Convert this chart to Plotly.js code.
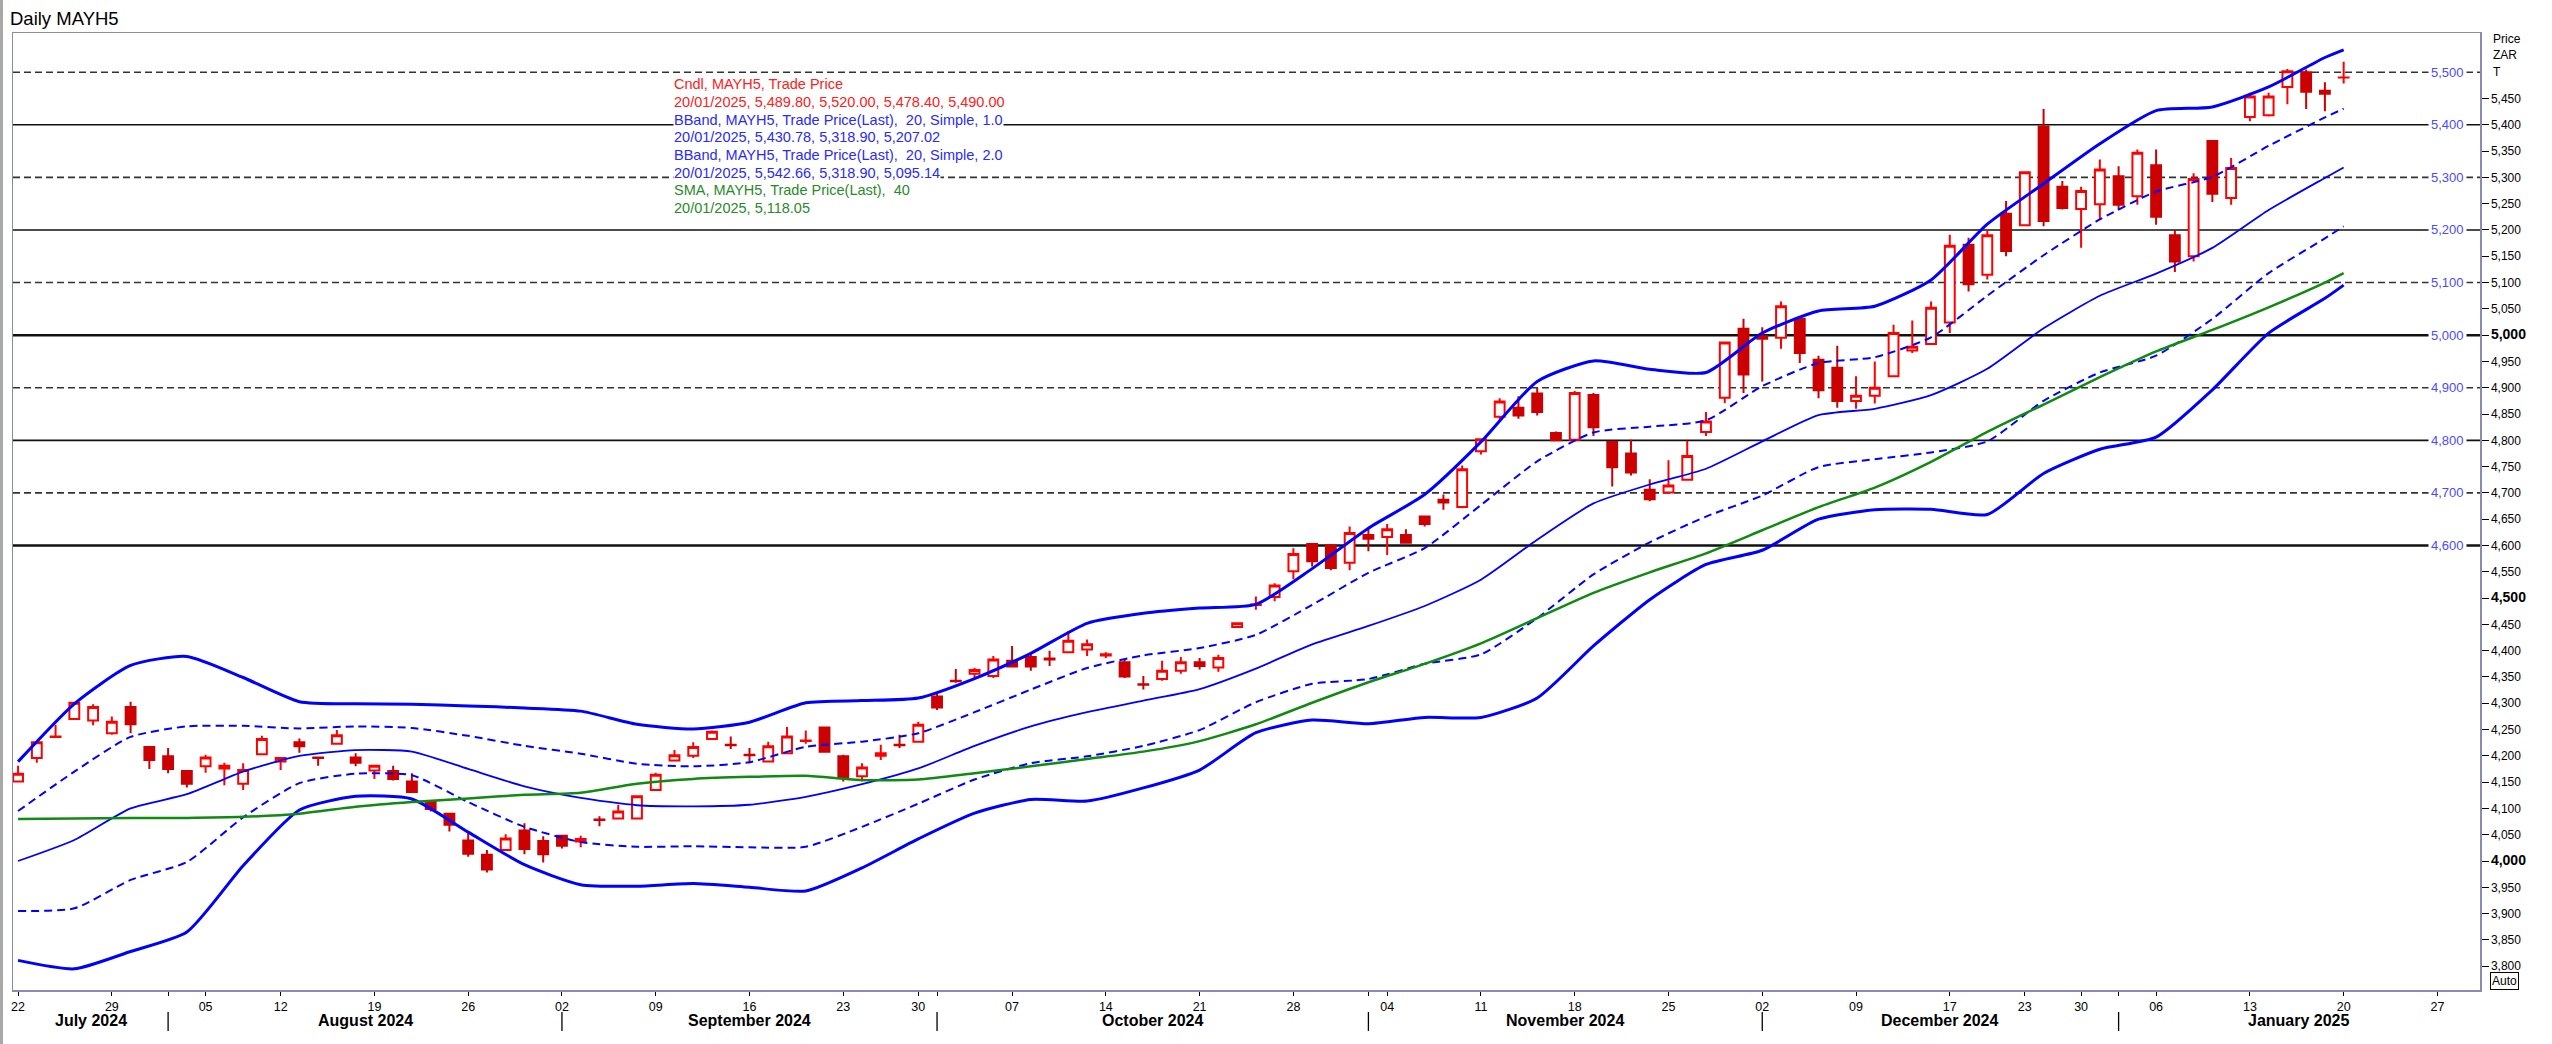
<!DOCTYPE html>
<html>
<head>
<meta charset="utf-8">
<script src="https://cdn.plot.ly/plotly-3.0.1.min.js"></script>
<style>
html,body{margin:0;padding:0;background:#ffffff;}
#chart{width:2552px;height:1044px;}
</style>
</head>
<body>
<div id="chart"></div>
<script>
// ---------------- DATA ----------------
const tradingDates = [
'2024-07-22','2024-07-23','2024-07-24','2024-07-25','2024-07-26','2024-07-29','2024-07-30','2024-07-31',
'2024-08-01','2024-08-02','2024-08-05','2024-08-06','2024-08-07','2024-08-08','2024-08-12','2024-08-13','2024-08-14','2024-08-15','2024-08-16','2024-08-19','2024-08-20','2024-08-21','2024-08-22','2024-08-23','2024-08-26','2024-08-27','2024-08-28','2024-08-29','2024-08-30',
'2024-09-02','2024-09-03','2024-09-04','2024-09-05','2024-09-06','2024-09-09','2024-09-10','2024-09-11','2024-09-12','2024-09-13','2024-09-16','2024-09-17','2024-09-18','2024-09-19','2024-09-20','2024-09-23','2024-09-25','2024-09-26','2024-09-27','2024-09-30',
'2024-10-01','2024-10-02','2024-10-03','2024-10-04','2024-10-07','2024-10-08','2024-10-09','2024-10-10','2024-10-11','2024-10-14','2024-10-15','2024-10-16','2024-10-17','2024-10-18','2024-10-21','2024-10-22','2024-10-23','2024-10-24','2024-10-25','2024-10-28','2024-10-29','2024-10-30','2024-10-31',
'2024-11-01','2024-11-04','2024-11-05','2024-11-06','2024-11-07','2024-11-08','2024-11-11','2024-11-12','2024-11-13','2024-11-14','2024-11-15','2024-11-18','2024-11-19','2024-11-20','2024-11-21','2024-11-22','2024-11-25','2024-11-26','2024-11-27','2024-11-28','2024-11-29',
'2024-12-02','2024-12-03','2024-12-04','2024-12-05','2024-12-06','2024-12-09','2024-12-10','2024-12-11','2024-12-12','2024-12-13','2024-12-17','2024-12-18','2024-12-19','2024-12-20','2024-12-23','2024-12-24','2024-12-27','2024-12-30','2024-12-31',
'2025-01-02','2025-01-03','2025-01-06','2025-01-07','2025-01-08','2025-01-09','2025-01-10','2025-01-13','2025-01-14','2025-01-15','2025-01-16','2025-01-17','2025-01-20'
];
const futureDates = ['2025-01-21','2025-01-22','2025-01-23','2025-01-24','2025-01-27'];

const openPx = [
4151,4196,4236,4270,4267,4243,4293,4217,4199,4171,4180,4176,4147,4203,4189,4226,4197,4223,4197,4172,
4171,4151,4113,4090,4039,4012,4021,4058,4038,4048,4037,4079,4081,4081,4135,4191,4200,4232,4221,4202,
4189,4205,4228,4254,4199,4161,4200,4221,4227,4313,4343,4356,4352,4381,4388,4385,4397,4402,4391,4378,
4336,4346,4362,4378,4368,4445,4487,4502,4551,4603,4600,4567,4620,4616,4620,4655,4687,4673,4779,4845,
4862,4889,4814,4801,4886,4797,4775,4706,4701,4725,4816,4881,5012,4998,4995,5031,4953,4938,4875,4885,
4922,4971,4983,5024,5172,5115,5231,5209,5397,5282,5240,5249,5302,5264,5323,5190,5150,5369,5261,5415,
5418,5472,5500,5465,5489.8];
const highPx = [
4181,4227,4259,4302,4298,4275,4303,4218,4215,4172,4202,4187,4186,4238,4196,4233,4198,4249,4205,4183,
4181,4167,4114,4091,4053,4021,4051,4072,4047,4050,4048,4085,4107,4124,4168,4211,4226,4248,4237,4215,
4227,4255,4248,4255,4202,4186,4221,4240,4265,4320,4365,4367,4390,4409,4397,4400,4437,4421,4397,4384,
4352,4381,4388,4386,4392,4454,4503,4528,4595,4604,4603,4636,4633,4641,4631,4656,4697,4752,4803,4880,
4884,4901,4817,4894,4890,4798,4801,4726,4762,4799,4854,4987,5031,5015,5064,5032,4961,4980,4922,4950,
5020,5028,5064,5191,5185,5200,5255,5311,5430,5293,5282,5334,5321,5353,5353,5200,5308,5370,5337,5461,
5461,5506,5505,5481,5520];
const lowPx = [
4150,4187,4235,4269,4258,4240,4243,4175,4167,4140,4168,4144,4135,4202,4173,4206,4181,4222,4180,4156,
4153,4130,4094,4056,4008,3978,4020,4013,3997,4024,4026,4066,4080,4080,4134,4190,4196,4231,4213,4186,
4188,4204,4223,4206,4151,4151,4192,4215,4226,4287,4339,4348,4348,4369,4362,4371,4396,4390,4386,4348,
4326,4343,4356,4364,4360,4443,4478,4494,4536,4560,4553,4553,4589,4582,4604,4636,4668,4671,4773,4836,
4841,4847,4800,4800,4808,4712,4733,4684,4700,4724,4808,4871,4890,4912,4974,4947,4880,4862,4860,4870,
4921,4966,4982,5004,5083,5106,5150,5208,5207,5239,5166,5220,5239,5248,5210,5120,5140,5253,5248,5407,
5416,5439,5430,5426,5478.4];
const closePx = [
4166,4226,4237,4301,4293,4265,4260,4192,4175,4147,4197,4181,4173,4232,4196,4218,4196,4239,4187,4181,
4156,4131,4099,4069,4014,3984,4043,4023,4013,4029,4042,4078,4094,4123,4164,4201,4217,4246,4220,4201,
4218,4237,4229,4208,4159,4178,4205,4220,4259,4292,4342,4363,4383,4370,4370,4383,4419,4412,4393,4351,
4335,4362,4378,4371,4386,4452,4488,4524,4584,4570,4557,4624,4613,4631,4605,4641,4682,4745,4802,4874,
4847,4854,4800,4890,4825,4749,4739,4688,4714,4770,4836,4986,4925,4993,5055,4966,4895,4875,4885,4900,
5004,4978,5052,5170,5097,5190,5160,5310,5217,5242,5274,5315,5248,5347,5225,5140,5297,5269,5318,5454,
5454,5502,5463,5459,5490];

// indicator readings (trading-day number -> value)
const bandDays = [0,3,6,9,12,15,18,21,24,27,30,33,36,39,42,45,48,51,54,57,60,63,66,69,72,75,78,81,84,87,90,93,96,99,102,105,108,111,114,117,120,123,124];
const bbUpper2 = [4189,4299,4372,4389,4349,4303,4299,4298,4295,4291,4285,4260,4251,4264,4301,4305,4310,4347,4395,4452,4471,4481,4488,4556,4633,4697,4797,4912,4951,4935,4929,5004,5046,5055,5105,5211,5288,5364,5427,5434,5472,5528,5542.66];
const bbUpper1 = [4095,4170,4236,4256,4257,4252,4256,4253,4238,4219,4204,4185,4180,4188,4217,4227,4243,4283,4326,4367,4391,4405,4430,4487,4548,4595,4677,4760,4815,4826,4838,4903,4947,4958,4996,5075,5152,5220,5273,5301,5360,5414,5430.78];
const bbMid    = [4000,4040,4100,4127,4170,4200,4211,4208,4175,4142,4120,4106,4104,4107,4122,4146,4176,4219,4256,4283,4305,4327,4366,4412,4447,4485,4535,4611,4680,4716,4746,4798,4848,4860,4886,4936,5013,5075,5117,5166,5238,5299,5318.90];
const bbLower1 = [3905,3910,3964,3998,4083,4148,4166,4163,4112,4065,4036,4027,4028,4026,4027,4065,4109,4155,4186,4199,4219,4249,4302,4337,4346,4375,4393,4462,4545,4606,4655,4695,4749,4764,4777,4798,4875,4929,4961,5031,5118,5184,5207.02];
const bbLower2 = [3811,3795,3828,3865,3991,4097,4123,4118,4055,3993,3955,3952,3957,3950,3943,3987,4042,4091,4117,4114,4139,4173,4244,4268,4261,4273,4273,4310,4409,4497,4564,4591,4650,4668,4669,4659,4737,4783,4806,4896,5004,5070,5095.14];
const sma40    = [4080,4081,4082,4082,4084,4090,4103,4112,4119,4126,4130,4147,4156,4160,4162,4154,4155,4167,4180,4194,4208,4228,4260,4301,4340,4375,4414,4462,4510,4549,4585,4629,4673,4710,4759,4816,4868,4920,4969,5010,5053,5100,5118.05];

const levelLines = [4600,4700,4800,4900,5000,5100,5200,5300,5400,5500];
const legendTexts = [
  'Cndl, MAYH5, Trade Price',
  '20/01/2025, 5,489.80, 5,520.00, 5,478.40, 5,490.00',
  'BBand, MAYH5, Trade Price(Last),  20, Simple, 1.0',
  '20/01/2025, 5,430.78, 5,318.90, 5,207.02',
  'BBand, MAYH5, Trade Price(Last),  20, Simple, 2.0',
  '20/01/2025, 5,542.66, 5,318.90, 5,095.14',
  'SMA, MAYH5, Trade Price(Last),  40',
  '20/01/2025, 5,118.05'
];
const legendKinds = ['cndl','cndl','bb','bb','bb','bb','sma','sma'];
const lastBlue = [5430.78, 5318.90, 5207.02, 5095.14];
const lastGreen = [5118.05];
const monthNames = ['January','February','March','April','May','June','July','August','September','October','November','December'];

// ---------------- LAYOUT CONSTANTS ----------------
const W = 2552, H = 1044;
const M = {l:13, r:72, t:33, b:54};
const plotH = H - M.t - M.b, plotW = W - M.l - M.r;
const xRange = [-0.27, 131.27];
const yRange = [3754.7, 5574.6];
const FONT = 'Liberation Sans, Arial, sans-serif';
const NARROW = 'Liberation Sans Narrow, Arial Narrow, Liberation Sans, Arial, sans-serif';
const COL = {up:'#ff0000', down:'#cc0000', blue:'#0000ff', green:'#108a10',
             txtRed:'#ff2020', txtBlue:'#2a2aff', txtGreen:'#2a8a2a', lvlLbl:'#4a4aff'};
const ypx = px => (H - M.b - px) / plotH;   // pixel row -> paper y
const xpx = px => (px - M.l) / plotW;       // pixel col -> paper x

// ---------------- DERIVED AXIS INFO ----------------
const allDates = tradingDates.concat(futureDates);
const dayIdx = tradingDates.map((d, i) => i);
function mondayOf(s){ const d = new Date(s + 'T00:00:00Z'); const wd = (d.getUTCDay() + 6) % 7; d.setUTCDate(d.getUTCDate() - wd); return d.toISOString().slice(0,10); }
const tickVals = [], tickText = [];
const monthStartIdx = [];
allDates.forEach((d, i) => {
  if (i === 0 || mondayOf(d) !== mondayOf(allDates[i-1])) { tickVals.push(i); tickText.push(d.slice(8,10)); }
  if (i > 0 && d.slice(0,7) !== allDates[i-1].slice(0,7)) {
    monthStartIdx.push(i);
    if (tickVals.indexOf(i) < 0) { tickVals.push(i); tickText.push(''); }
  }
});

// ---------------- TRACES ----------------
const traces = [];
traces.push({
  type:'candlestick', x:dayIdx, open:openPx, high:highPx, low:lowPx, close:closePx,
  increasing:{line:{color:COL.up, width:2}, fillcolor:'#ffffff'},
  decreasing:{line:{color:COL.down, width:2}, fillcolor:COL.down},
  whiskerwidth:0, hoverinfo:'skip', showlegend:false
});
const lineTrace = (y, color, width, dash) => ({type:'scatter', mode:'lines', x:bandDays, y:y,
  line:{color:color, width:width, dash:dash || 'solid', shape:'spline', smoothing:0.6}, hoverinfo:'skip', showlegend:false});
traces.push(lineTrace(bbUpper2, COL.blue, 3));
traces.push(lineTrace(bbUpper1, COL.blue, 2, '8px,5px'));
traces.push(lineTrace(bbMid, COL.blue, 1.8));
traces.push(lineTrace(bbLower1, COL.blue, 2, '8px,5px'));
traces.push(lineTrace(bbLower2, COL.blue, 3));
traces.push(lineTrace(sma40, COL.green, 2.5));
// last value markers on the price scale
traces.push({type:'scatter', mode:'markers', x:lastBlue.map(() => xRange[1] + 0.38), y:lastBlue,
  marker:{symbol:'diamond', size:9, color:COL.blue}, cliponaxis:false, hoverinfo:'skip', showlegend:false});
traces.push({type:'scatter', mode:'markers', x:lastGreen.map(() => xRange[1] + 0.38), y:lastGreen,
  marker:{symbol:'diamond', size:9, color:COL.green}, cliponaxis:false, hoverinfo:'skip', showlegend:false});

// ---------------- SHAPES ----------------
const shapes = [];
levelLines.forEach(v => {
  const solid = (v % 200 === 0);
  const heavy = (v === 5000 || v === 4600);
  shapes.push({type:'line', xref:'paper', x0:0, x1:1, yref:'y', y0:v, y1:v, layer:'below',
    line:{color: solid ? '#111111' : '#333333', width: heavy ? 2.5 : 1.6, dash: solid ? 'solid' : '7px,4px'}});
});
monthStartIdx.forEach(i => {
  shapes.push({type:'line', xref:'x', x0:i, x1:i, yref:'paper', y0:ypx(1012), y1:ypx(1031), line:{color:'#000', width:1.3}});
});
// window edge strip at far left
shapes.push({type:'rect', xref:'paper', yref:'paper', x0:xpx(0), x1:xpx(3), y0:ypx(H), y1:ypx(0), line:{width:0}, fillcolor:'#a8a8a8'});

// ---------------- ANNOTATIONS ----------------
const annotations = [];
annotations.push({xref:'paper', yref:'paper', x:xpx(8), y:ypx(18), xanchor:'left', yanchor:'middle',
  text:'Daily MAYH5', showarrow:false, font:{family:FONT, size:18.5, color:'#000'}});
const legendY0 = 84.3, legendStep = 17.65;
legendTexts.forEach((t, k) => {
  const c = legendKinds[k] === 'cndl' ? COL.txtRed : (legendKinds[k] === 'bb' ? COL.txtBlue : COL.txtGreen);
  annotations.push({xref:'paper', yref:'paper', x:xpx(673), y:ypx(legendY0 + k * legendStep), xanchor:'left', yanchor:'middle',
    text:t, showarrow:false, bgcolor:'#ffffff', borderpad:0, font:{family:FONT, size:14.5, color:c}});
});
levelLines.forEach(v => {
  annotations.push({xref:'paper', yref:'y', x:xpx(2447), y:v, xanchor:'center', yanchor:'middle',
    text:v.toLocaleString('en-US'), showarrow:false, bgcolor:'#ffffff', borderpad:2,
    font:{family:FONT, size:13, color:COL.lvlLbl}});
});
['Price','ZAR','T'].forEach((t, k) => {
  annotations.push({xref:'paper', yref:'paper', x:xpx(2491), y:ypx(39 + k * 16.5), xanchor:'left', yanchor:'middle',
    text:t, showarrow:false, font:{family:FONT, size:12, color:'#000'}});
});
annotations.push({xref:'paper', yref:'paper', x:xpx(2490), y:ypx(981), xanchor:'left', yanchor:'middle',
  text:'Auto', showarrow:false, bordercolor:'#000', borderwidth:1, borderpad:1, bgcolor:'#ffffff',
  font:{family:FONT, size:12, color:'#000'}});
// month labels
const bounds = [xRange[0]].concat(monthStartIdx, [xRange[1]]);
for (let k = 0; k < bounds.length - 1; k++) {
  const startIdx = k === 0 ? 0 : monthStartIdx[k-1];
  const d = allDates[startIdx];
  const label = monthNames[parseInt(d.slice(5,7), 10) - 1] + ' ' + d.slice(0,4);
  annotations.push({xref:'x', yref:'paper', x:(bounds[k] + bounds[k+1]) / 2, y:ypx(1021), xanchor:'center', yanchor:'middle',
    text:'<b>' + label + '</b>', showarrow:false, font:{family:FONT, size:16, color:'#000'}});
}

// ---------------- Y TICKS ----------------
const yTickVals = [], yTickText = [];
for (let v = 3800; v <= 5450; v += 50) {
  yTickVals.push(v);
  const s = v.toLocaleString('en-US');
  yTickText.push(v % 500 === 0 ? '<span style="font-size:14px"><b>' + s + '</b></span>' : s);
}

const layout = {
  width:W, height:H, margin:M, paper_bgcolor:'#ffffff', plot_bgcolor:'#ffffff',
  showlegend:false, dragmode:false, boxgap:0.25,
  xaxis:{type:'linear', range:xRange, tickvals:tickVals, ticktext:tickText, ticks:'outside', ticklen:4, tickwidth:1, tickcolor:'#000',
    showgrid:false, zeroline:false, showline:true, mirror:true, linecolor:'#8a8ab2', linewidth:1.5,
    tickfont:{family:NARROW, size:12.5, color:'#000'}, rangeslider:{visible:false}, fixedrange:true},
  yaxis:{type:'linear', side:'right', range:yRange, tickvals:yTickVals, ticktext:yTickText, ticks:'outside', ticklen:7, tickwidth:1, tickcolor:'#000',
    showgrid:false, zeroline:false, showline:true, mirror:true, linecolor:'#8a8ab2', linewidth:1.5,
    tickfont:{family:FONT, size:12, color:'#000'}, fixedrange:true},
  shapes:shapes, annotations:annotations
};
Plotly.newPlot('chart', traces, layout, {staticPlot:true, displayModeBar:false});
</script>
</body>
</html>
